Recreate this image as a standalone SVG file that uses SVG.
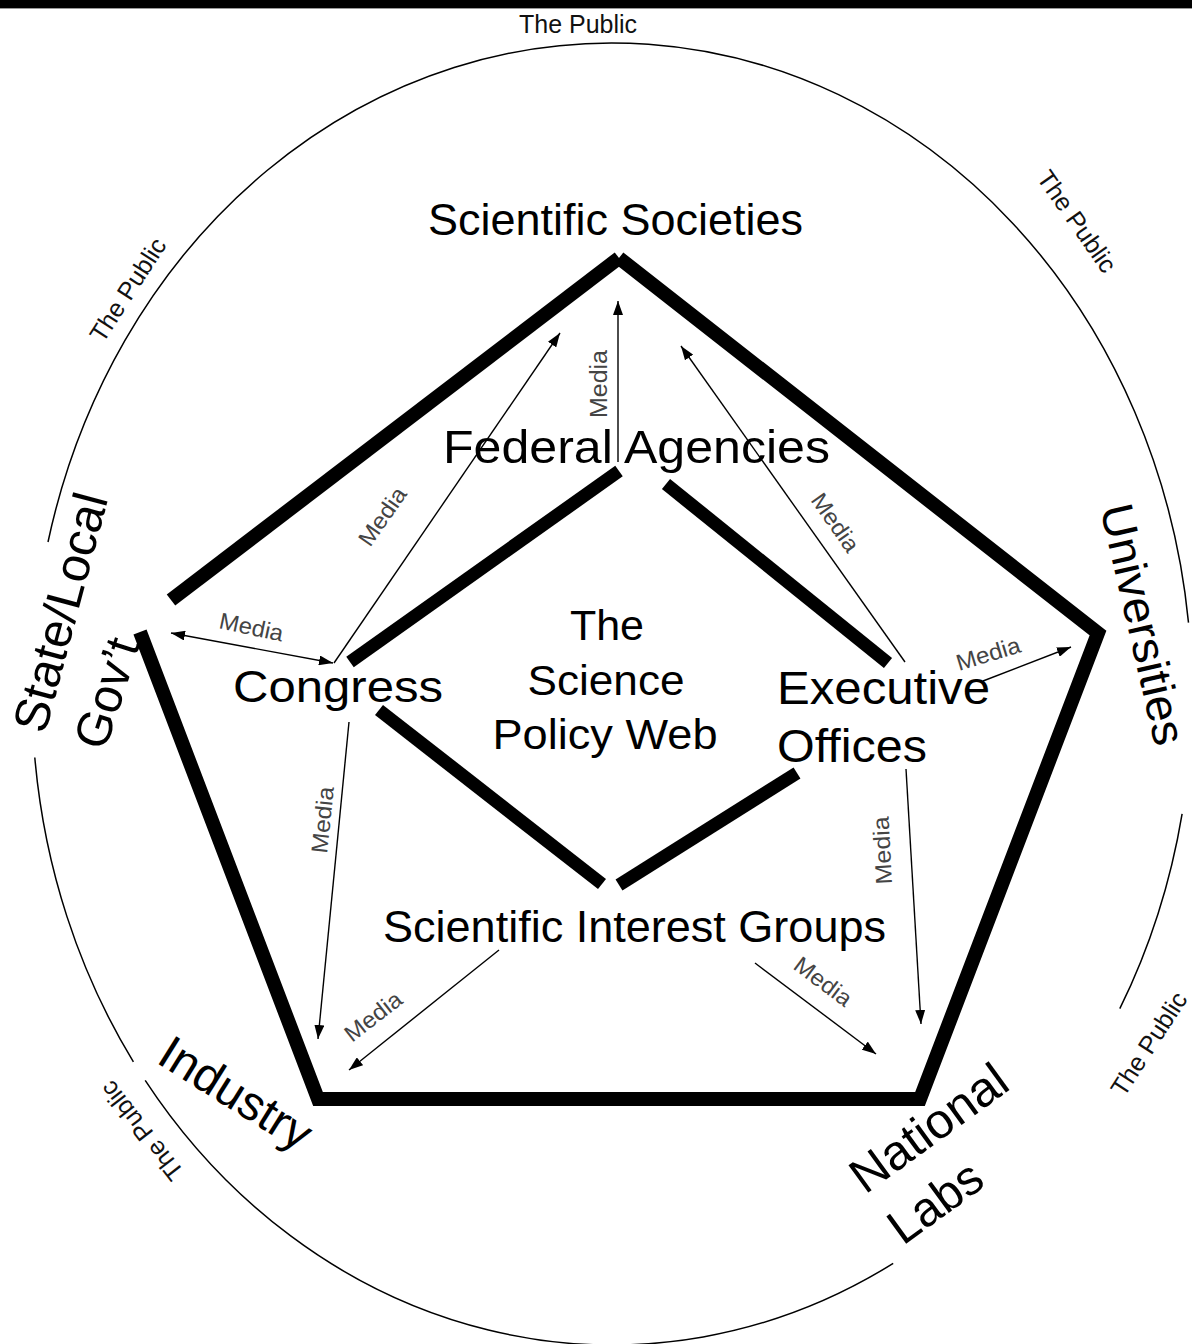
<svg xmlns="http://www.w3.org/2000/svg" width="1192" height="1344" viewBox="0 0 1192 1344">
<style>
.thick{stroke:#000;stroke-width:14;fill:none;stroke-linecap:butt;stroke-linejoin:miter;stroke-miterlimit:10}
.inner{stroke:#000;stroke-width:13;fill:none;stroke-linecap:butt}
.arc{stroke:#000;stroke-width:1.5;fill:none}
.arrow{stroke:#000;stroke-width:1.4;fill:none;marker-end:url(#ah)}
.big{font-family:"Liberation Sans",Arial,sans-serif;fill:#000}
.media{font-family:"Liberation Sans",Arial,sans-serif;font-size:23px;fill:#444}
.pub{font-family:"Liberation Sans",Arial,sans-serif;font-size:25px;fill:#111}
</style>
<defs>
<marker id="ah" markerWidth="14" markerHeight="10" refX="14" refY="5" orient="auto-start-reverse" markerUnits="userSpaceOnUse">
<path d="M0,0 L14,5 L0,10 z" fill="#000"/>
</marker>
</defs>
<rect x="0" y="0" width="1192" height="8" fill="#000"/>
<line x1="0" y1="8.5" x2="1192" y2="8.5" stroke="#999" stroke-width="1"/>

<g id="public-circle">
<path class="arc" d="M1188.5,622.6 A580,651 0 0 0 48,542"/>
<path class="arc" d="M34.8,757.5 A580,651 0 0 0 133.4,1061.8"/>
<path class="arc" d="M145.2,1080.3 A580,651 0 0 0 893.2,1263.4"/>
<path class="arc" d="M1119.8,1008.7 A580,651 0 0 0 1182.1,813.8"/>
<text class="pub" x="519" y="33" textLength="118" lengthAdjust="spacingAndGlyphs">The Public</text>
<text class="pub" transform="translate(103,344) rotate(-57)" textLength="118" lengthAdjust="spacingAndGlyphs">The Public</text>
<text class="pub" transform="translate(1036,178) rotate(55)" textLength="118" lengthAdjust="spacingAndGlyphs">The Public</text>
<text class="pub" transform="translate(1124,1098) rotate(-57)" textLength="118" lengthAdjust="spacingAndGlyphs">The Public</text>
<text class="pub" transform="translate(185,1172) rotate(-128)" textLength="118" lengthAdjust="spacingAndGlyphs">The Public</text>
</g>

<g id="pentagon">
<line class="thick" x1="171" y1="600" x2="619" y2="258"/>
<polyline class="thick" points="140,632 318,1099 920,1099 1098,633 619,258"/>
</g>

<g id="diamond">
<line class="inner" x1="619" y1="471" x2="350" y2="662"/>
<line class="inner" x1="666" y1="484" x2="888" y2="663"/>
<line class="inner" x1="379" y1="710" x2="602" y2="884"/>
<line class="inner" x1="619" y1="885" x2="797" y2="773"/>
</g>

<g id="connectors">
<line class="arrow" x1="171" y1="633" x2="333" y2="663" marker-start="url(#ah)"/>
<line class="arrow" x1="334" y1="663" x2="560" y2="333"/>
<line class="arrow" x1="618" y1="462" x2="618" y2="301"/>
<line class="arrow" x1="905" y1="662" x2="681" y2="346"/>
<line class="arrow" x1="983" y1="681" x2="1071" y2="647"/>
<line class="arrow" x1="349" y1="722" x2="318" y2="1039"/>
<line class="arrow" x1="499" y1="950" x2="349" y2="1070"/>
<line class="arrow" x1="906" y1="769" x2="921" y2="1024"/>
<line class="arrow" x1="755" y1="963" x2="876" y2="1054"/>
<text class="media" transform="translate(218,628) rotate(12)" textLength="65" lengthAdjust="spacingAndGlyphs">Media</text>
<text class="media" transform="translate(370,548) rotate(-55)" textLength="66" lengthAdjust="spacingAndGlyphs">Media</text>
<text class="media" transform="translate(607,418) rotate(-90)" textLength="68" lengthAdjust="spacingAndGlyphs">Media</text>
<text class="media" transform="translate(810,500) rotate(55)" textLength="66" lengthAdjust="spacingAndGlyphs">Media</text>
<text class="media" transform="translate(959,671) rotate(-17)" textLength="66" lengthAdjust="spacingAndGlyphs">Media</text>
<text class="media" transform="translate(327,854) rotate(-84)" textLength="67" lengthAdjust="spacingAndGlyphs">Media</text>
<text class="media" transform="translate(352,1043) rotate(-38)" textLength="66" lengthAdjust="spacingAndGlyphs">Media</text>
<text class="media" transform="translate(892,884) rotate(-93)" textLength="68" lengthAdjust="spacingAndGlyphs">Media</text>
<text class="media" transform="translate(792,968) rotate(37)" textLength="66" lengthAdjust="spacingAndGlyphs">Media</text>
</g>

<g id="scientific-societies">
<text class="big" x="428" y="235" font-size="45" textLength="375" lengthAdjust="spacingAndGlyphs">Scientific Societies</text>
</g>
<g id="federal-agencies">
<text class="big" x="443" y="463" font-size="47" textLength="387" lengthAdjust="spacingAndGlyphs">Federal Agencies</text>
</g>
<g id="center">
<text class="big" x="607" y="640" font-size="43" text-anchor="middle">The</text>
<text class="big" x="606" y="695" font-size="43" text-anchor="middle" textLength="157" lengthAdjust="spacingAndGlyphs">Science</text>
<text class="big" x="605" y="749" font-size="43" text-anchor="middle" textLength="225" lengthAdjust="spacingAndGlyphs">Policy Web</text>
</g>
<g id="congress">
<text class="big" x="233" y="702" font-size="44" textLength="210" lengthAdjust="spacingAndGlyphs">Congress</text>
</g>
<g id="executive-offices">
<text class="big" x="777" y="704" font-size="46" textLength="213" lengthAdjust="spacingAndGlyphs">Executive</text>
<text class="big" x="777" y="762" font-size="46" textLength="150" lengthAdjust="spacingAndGlyphs">Offices</text>
</g>
<g id="scientific-interest-groups">
<text class="big" x="383" y="942" font-size="45" textLength="503" lengthAdjust="spacingAndGlyphs">Scientific Interest Groups</text>
</g>
<g id="state-local">
<text class="big" transform="translate(45,735) rotate(-75)" font-size="49" textLength="245" lengthAdjust="spacingAndGlyphs">State/Local</text>
<text class="big" transform="translate(105,752) rotate(-72)" font-size="49" textLength="113" lengthAdjust="spacingAndGlyphs">Gov’t</text>
</g>
<g id="universities">
<text class="big" transform="translate(1100,508) rotate(77)" font-size="46" textLength="246" lengthAdjust="spacingAndGlyphs">Universities</text>
</g>
<g id="industry">
<text class="big" transform="translate(155,1062) rotate(32)" font-size="48" textLength="170" lengthAdjust="spacingAndGlyphs">Industry</text>
</g>
<g id="national-labs">
<text class="big" transform="translate(865,1195) rotate(-36)" font-size="49" textLength="182" lengthAdjust="spacingAndGlyphs">National</text>
<text class="big" transform="translate(903,1246) rotate(-36)" font-size="49" textLength="104" lengthAdjust="spacingAndGlyphs">Labs</text>
</g>
</svg>
